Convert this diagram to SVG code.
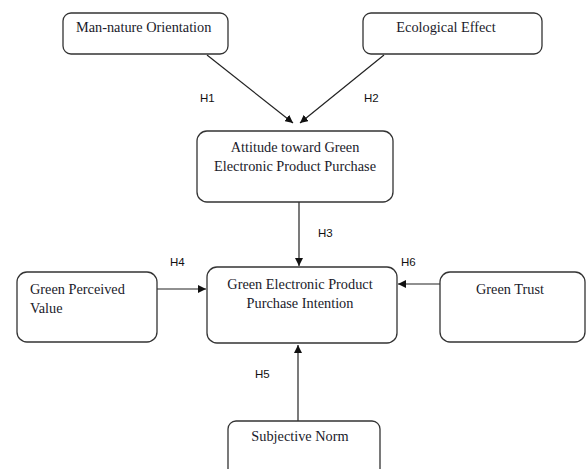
<svg xmlns="http://www.w3.org/2000/svg" width="586" height="469" viewBox="0 0 586 469">
<defs>
<style>
.box{fill:#fff;stroke:#333;stroke-width:1.3}
.t{font-family:"Liberation Serif","Times New Roman",serif;font-size:14.3px;fill:#1a1a2a}
.h{font-family:"Liberation Sans",Arial,sans-serif;font-size:11.5px;fill:#111}
.c{stroke:#222;stroke-width:1.2;fill:none;marker-end:url(#ah)}
</style>
<marker id="ah" viewBox="0 0 10 10" refX="10" refY="5" markerWidth="8" markerHeight="8" markerUnits="userSpaceOnUse" orient="auto">
<path d="M0,0 L10,5 L0,10 z" fill="#111"/>
</marker>
</defs>
<rect width="586" height="469" fill="#fff"/>
<g id="connectors">
<line class="c" x1="207" y1="55" x2="293" y2="123"/>
<line class="c" x1="384" y1="55" x2="300" y2="123"/>
<line class="c" x1="299" y1="202" x2="299" y2="266"/>
<line class="c" x1="157" y1="289" x2="206" y2="289"/>
<line class="c" x1="440" y1="284" x2="398" y2="284"/>
<line class="c" x1="298" y1="421" x2="298" y2="345"/>
</g>
<g id="labels">
<text class="h" x="200" y="102">H1</text>
<text class="h" x="364" y="102">H2</text>
<text class="h" x="318" y="237">H3</text>
<text class="h" x="170" y="266">H4</text>
<text class="h" x="401" y="266">H6</text>
<text class="h" x="255" y="378">H5</text>
</g>
<g id="man-nature">
<rect class="box" x="63" y="13" width="165" height="41" rx="8"/>
<text class="t" x="76" y="32">Man-nature Orientation</text>
</g>
<g id="ecological">
<rect class="box" x="363" y="13" width="179" height="41" rx="8"/>
<text class="t" x="446" y="32" text-anchor="middle">Ecological Effect</text>
</g>
<g id="attitude">
<rect class="box" x="197" y="131" width="196" height="71" rx="10"/>
<text class="t" x="295" y="152" text-anchor="middle">Attitude toward Green</text>
<text class="t" x="295" y="171" text-anchor="middle">Electronic Product Purchase</text>
</g>
<g id="intention">
<rect class="box" x="207" y="267" width="190" height="76" rx="10"/>
<text class="t" x="300" y="289" text-anchor="middle">Green Electronic Product</text>
<text class="t" x="300" y="308" text-anchor="middle">Purchase Intention</text>
</g>
<g id="perceived-value">
<rect class="box" x="17" y="272" width="140" height="70" rx="10"/>
<text class="t" x="30" y="294">Green Perceived</text>
<text class="t" x="30" y="313">Value</text>
</g>
<g id="trust">
<rect class="box" x="440" y="272" width="145" height="70" rx="10"/>
<text class="t" x="510" y="294" text-anchor="middle">Green Trust</text>
</g>
<g id="subjective-norm">
<rect class="box" x="228" y="421" width="152" height="60" rx="8"/>
<text class="t" x="300" y="441" text-anchor="middle">Subjective Norm</text>
</g>
</svg>
